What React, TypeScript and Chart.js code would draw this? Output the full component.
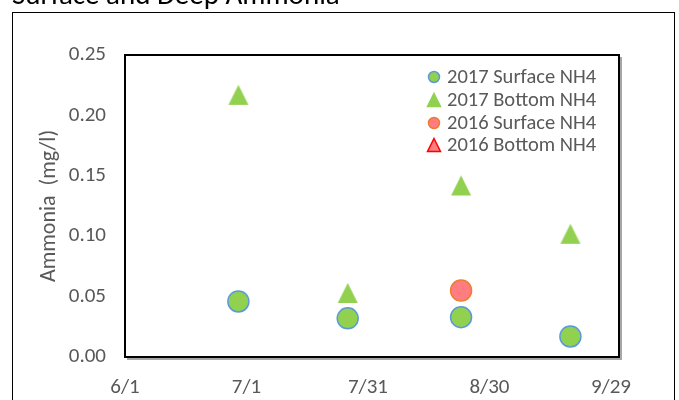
import React, { useEffect, useRef } from "react";
import { Chart, registerables } from "chart.js";

Chart.register(...registerables);

const TITLE = "Surface and Deep Ammonia";
const Y_TITLE = "Ammonia  (mg/l)";
const X_TICK_DATES = ["6/1", "7/1", "7/31", "8/30", "9/29"];
const X_MIN_DATE = "6/1";
const X_MAX_DATE = "10/1";

const SURF_2017_DATES = ["6/29", "7/26", "8/23", "9/19"];
const SURF_2017_VALUES = [0.046, 0.032, 0.033, 0.017];
const BOT_2017_DATES = ["6/29", "7/26", "8/23", "9/19"];
const BOT_2017_VALUES = [0.217, 0.053, 0.142, 0.102];
const SURF_2016_DATES = ["8/23"];
const SURF_2016_VALUES = [0.055];
const BOT_2016_DATES: string[] = [];
const BOT_2016_VALUES: number[] = [];

const SERIES_NAMES = ["2017 Surface NH4", "2017 Bottom NH4", "2016 Surface NH4", "2016 Bottom NH4"];

const MONTH_START: Record<number, number> = { 6: 0, 7: 30, 8: 61, 9: 92, 10: 122 };
function toDay(s: string): number {
  const [m, d] = s.split("/").map(Number);
  return MONTH_START[m] + d - 1;
}
function fromDay(v: number): string {
  const months = [10, 9, 8, 7, 6];
  for (const m of months) {
    if (v >= MONTH_START[m]) return `${m}/${v - MONTH_START[m] + 1}`;
  }
  return "";
}

const FONT = "Carlito, Lato, 'Liberation Sans', sans-serif";
const GRAY = "#595959";

const pts = (dates: string[], vals: number[]) => dates.map((d, i) => ({ x: toDay(d), y: vals[i] }));

function triangleImage(w: number, h: number, fill: string, stroke: string, lw: number) {
  const c = document.createElement("canvas");
  c.width = w + 4;
  c.height = h + 4;
  const ctx = c.getContext("2d")!;
  ctx.fillStyle = fill;
  ctx.strokeStyle = stroke;
  ctx.lineWidth = lw;
  ctx.beginPath();
  ctx.moveTo(c.width / 2, 2);
  ctx.lineTo(c.width / 2 + w / 2, 2 + h);
  ctx.lineTo(c.width / 2 - w / 2, 2 + h);
  ctx.closePath();
  ctx.fill();
  if (lw > 0) ctx.stroke();
  return c;
}

const STYLES = [
  { kind: "circle", bg: "#92D050", border: "#5B9BD5", r: 10.5, lr: 5.5 },
  { kind: "triangle", bg: "#92D050", border: "#92D050", r: 20, lr: 13 },
  { kind: "circle", bg: "#FF7C80", border: "#ED7D31", r: 10.5, lr: 5.5 },
  { kind: "triangle", bg: "#FF7C80", border: "#FF0000", r: 20, lr: 13 },
];

const decorPlugin = {
  id: "decor",
  beforeDraw(chart: any) {
    const ctx = chart.ctx;
    ctx.save();
    ctx.fillStyle = "#fff";
    ctx.fillRect(0, 0, chart.width, chart.height);
    ctx.strokeStyle = "#000";
    ctx.lineWidth = 1;
    ctx.strokeRect(12.5, 12.5, 662, chart.height + 50);
    ctx.fillStyle = "#000";
    ctx.font = `29px ${FONT}`;
    ctx.textBaseline = "alphabetic";
    ctx.textAlign = "left";
    ctx.fillText(TITLE, 12, 4);
    ctx.restore();
  },
  afterDatasetsDraw(chart: any) {
    const ctx = chart.ctx;
    const a = chart.chartArea;
    ctx.save();
    ctx.strokeStyle = "#a6a6a6";
    ctx.lineWidth = 2;
    ctx.beginPath();
    ctx.moveTo(a.left + 2, a.bottom + 2);
    ctx.lineTo(a.right + 2, a.bottom + 2);
    ctx.lineTo(a.right + 2, a.top + 2);
    ctx.stroke();
    ctx.strokeStyle = "#000";
    ctx.lineWidth = 2;
    ctx.strokeRect(a.left, a.top, a.right - a.left, a.bottom - a.top);
    const lx = 434;
    const tx = 447;
    const ys = [77, 100, 123, 145];
    ctx.font = `20.5px ${FONT}`;
    ctx.textBaseline = "middle";
    ctx.textAlign = "left";
    SERIES_NAMES.forEach((name, i) => {
      const s = STYLES[i];
      ctx.fillStyle = s.bg;
      ctx.strokeStyle = s.border;
      ctx.lineWidth = 1.5;
      ctx.beginPath();
      if (s.kind === "circle") {
        ctx.arc(lx, ys[i], s.lr, 0, Math.PI * 2);
      } else {
        const h = s.lr;
        ctx.moveTo(lx, ys[i] - h / 2);
        ctx.lineTo(lx + h / 2, ys[i] + h / 2);
        ctx.lineTo(lx - h / 2, ys[i] + h / 2);
        ctx.closePath();
      }
      ctx.fill();
      ctx.stroke();
      ctx.fillStyle = GRAY;
      ctx.fillText(name, tx, ys[i] + 1);
    });
    ctx.restore();
  },
};

export default function App() {
  const ref = useRef<HTMLCanvasElement | null>(null);
  useEffect(() => {
    if (!ref.current) return;
    const data = [
      pts(SURF_2017_DATES, SURF_2017_VALUES),
      pts(BOT_2017_DATES, BOT_2017_VALUES),
      pts(SURF_2016_DATES, SURF_2016_VALUES),
      pts(BOT_2016_DATES, BOT_2016_VALUES),
    ];
    const order = [3, 2, 1, 0];
    const chart = new Chart(ref.current, {
      type: "scatter",
      data: {
        datasets: order.map((i) => {
          const s = STYLES[i];
          const ps =
            s.kind === "circle" ? "circle" : triangleImage(s.r, s.r, s.bg, s.border, s.border === s.bg ? 0 : 1.5);
          return {
            label: SERIES_NAMES[i],
            data: data[i],
            pointStyle: ps as any,
            pointRadius: s.kind === "circle" ? s.r : s.r / 2,
            pointBackgroundColor: s.bg,
            pointBorderColor: s.border,
            pointBorderWidth: 1.5,
            showLine: false,
          };
        }),
      },
      options: {
        responsive: false,
        animation: false,
        events: [],
        layout: { padding: { left: 30, top: 55, right: 60, bottom: 0 } },
        plugins: { legend: { display: false }, tooltip: { enabled: false }, title: { display: false } },
        scales: {
          x: {
            type: "linear",
            min: toDay(X_MIN_DATE),
            max: toDay(X_MAX_DATE),
            afterBuildTicks: (s: any) => {
              s.ticks = X_TICK_DATES.map((d) => ({ value: toDay(d) }));
            },
            afterFit: (s: any) => {
              s.height = 43;
            },
            grid: { display: false, drawTicks: false },
            border: { display: false },
            ticks: {
              color: GRAY,
              font: { family: FONT, size: 21 },
              padding: 18,
              maxRotation: 0,
              autoSkip: false,
              callback: (v: any) => fromDay(Number(v)),
            },
          },
          y: {
            min: 0,
            max: 0.25,
            afterFit: (s: any) => {
              s.width = 95;
            },
            grid: { display: false, drawTicks: false },
            border: { display: false },
            ticks: {
              stepSize: 0.05,
              color: GRAY,
              font: { family: FONT, size: 21 },
              padding: 19,
              callback: (v: any) => Number(v).toFixed(2),
            },
            title: {
              display: true,
              text: Y_TITLE,
              color: GRAY,
              font: { family: FONT, size: 22 },
              padding: { top: 6, bottom: 0 },
            },
          },
        },
      },
      plugins: [decorPlugin],
    });
    return () => chart.destroy();
  }, []);
  return (
    <div style={{ position: "absolute", left: 0, top: 0, width: 679, height: 400 }}>
      <canvas ref={ref} width={679} height={400} style={{ width: 679, height: 400, display: "block" }} />
    </div>
  );
}
